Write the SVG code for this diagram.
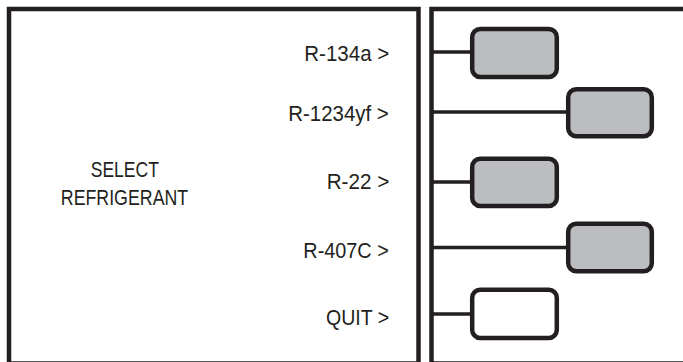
<svg xmlns="http://www.w3.org/2000/svg" width="683" height="362" viewBox="0 0 683 362">
<style>
.panel{fill:#fff;stroke:#231f20;stroke-width:4.5}
.btn{stroke:#231f20;stroke-width:4.5}
.grey{fill:#bcbdc0}
.white{fill:#fff}
.con{stroke:#231f20;stroke-width:3.5;fill:none}
text{font-family:"Liberation Sans",Arial,sans-serif;font-size:22px;fill:#231f20}
</style>
<rect width="683" height="362" fill="#fff"/>
<g id="left-panel">
<rect class="panel" x="9" y="9" width="409.5" height="354.5"/>
<text x="90.7" y="177" textLength="68.3" lengthAdjust="spacingAndGlyphs">SELECT</text>
<text x="60.8" y="205" textLength="127.4" lengthAdjust="spacingAndGlyphs">REFRIGERANT</text>
<text x="304.3" y="61" textLength="85" lengthAdjust="spacingAndGlyphs">R-134a &gt;</text>
<text x="288.3" y="121" textLength="100.5" lengthAdjust="spacingAndGlyphs">R-1234yf &gt;</text>
<text x="326.7" y="189" textLength="62.6" lengthAdjust="spacingAndGlyphs">R-22 &gt;</text>
<text x="303.3" y="257.5" textLength="85.5" lengthAdjust="spacingAndGlyphs">R-407C &gt;</text>
<text x="326" y="324.5" textLength="63.3" lengthAdjust="spacingAndGlyphs">QUIT &gt;</text>
</g>
<g id="right-panel">
<rect class="panel" x="431.5" y="9" width="270" height="354.5"/>
</g>
<g id="connectors">
<line class="con" x1="431" y1="52" x2="472" y2="52"/>
<line class="con" x1="431" y1="112" x2="568" y2="112"/>
<line class="con" x1="431" y1="182" x2="472" y2="182"/>
<line class="con" x1="431" y1="247.5" x2="568" y2="247.5"/>
<line class="con" x1="431" y1="314" x2="472" y2="314"/>
</g>
<g id="btn-r134a"><rect class="btn grey" x="472.2" y="29" width="84.6" height="48" rx="8"/></g>
<g id="btn-r1234yf"><rect class="btn grey" x="568.2" y="89.3" width="83.6" height="47" rx="8"/></g>
<g id="btn-r22"><rect class="btn grey" x="472.2" y="158.7" width="84.6" height="47.3" rx="8"/></g>
<g id="btn-r407c"><rect class="btn grey" x="568.2" y="223.7" width="83.6" height="47.6" rx="8"/></g>
<g id="btn-quit"><rect class="btn white" x="472.2" y="289.7" width="84.6" height="48.3" rx="8"/></g>
</svg>
